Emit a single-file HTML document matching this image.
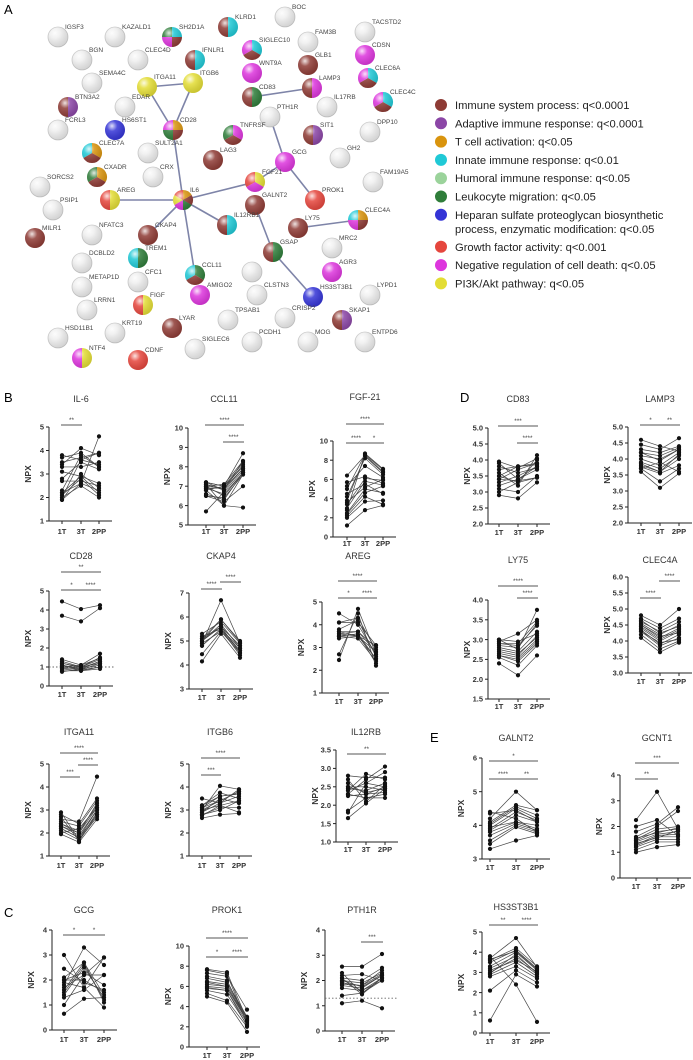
<!DOCTYPE html>
<html><head><meta charset="utf-8">
<style>
html,body{margin:0;padding:0;background:#fff;}
svg{display:block;font-family:"Liberation Sans",sans-serif;}
</style></head>
<body>
<svg id="fig" width="693" height="1060" viewBox="0 0 693 1060" xmlns="http://www.w3.org/2000/svg">
<defs>
<radialGradient id="shine" cx="0.35" cy="0.3" r="0.75">
<stop offset="0" stop-color="#fff" stop-opacity="0.85"/>
<stop offset="0.35" stop-color="#fff" stop-opacity="0.15"/>
<stop offset="1" stop-color="#000" stop-opacity="0.12"/>
</radialGradient>
</defs>
<g id="network"></g>
<g id="legend"></g>
<g id="panels"></g>
<text x="4" y="14" font-size="13">A</text>
<text x="4" y="402" font-size="13">B</text>
<text x="4" y="917" font-size="13">C</text>
<text x="460" y="402" font-size="13">D</text>
<text x="430" y="742" font-size="13">E</text>
</svg>
<script>
// ---------- Network data: [name, x, y, colours] ----------
const nodes = [
["IGSF3",58,37,""],["KAZALD1",115,37,""],["SH2D1A",172,37,"teal,brown,magenta,green"],["KLRD1",228,27,"teal,brown"],
["BOC",285,17,""],["FAM3B",308,42,""],["TACSTD2",365,32,""],["BGN",82,60,""],["CLEC4D",138,60,""],
["IFNLR1",195,60,"teal,brown"],["SIGLEC10",252,50,"teal,brown,magenta"],["GLB1",308,65,"brown"],["CDSN",365,55,"magenta"],
["SEMA4C",92,83,""],["ITGA11",147,87,"yellow"],["ITGB6",193,83,"yellow"],["WNT9A",252,73,"magenta"],
["LAMP3",312,88,"magenta,brown"],["CLEC6A",368,78,"teal,brown,magenta"],["BTN3A2",68,107,"purple,brown"],["EDAR",125,107,""],
["CD83",252,97,"green,brown"],["IL17RB",327,107,""],["CLEC4C",383,102,"teal,brown,magenta"],["FCRL3",58,130,""],
["HS6ST1",115,130,"blue"],["CD28",173,130,"orange,brown,green,magenta"],["PTH1R",270,117,""],["TNFRSF",233,135,"magenta,brown,green"],
["SIT1",313,135,"purple,brown"],["DPP10",370,132,""],["CLEC7A",92,153,"orange,brown,teal"],["SULT2A1",148,153,""],
["LAG3",213,160,"brown"],["GCG",285,162,"magenta"],["GH2",340,158,""],["CXADR",97,177,"orange,brown,green"],["CRX",153,177,""],
["FGF21",255,182,"yellow,magenta,red"],["FAM19A5",373,182,""],["SORCS2",40,187,""],["AREG",110,200,"yellow,red"],
["IL6",183,200,"orange,brown,green,magenta,yellow,red"],["PROK1",315,200,"red"],["PSIP1",53,210,""],["GALNT2",255,205,"brown"],
["IL12RB1",227,225,"teal,brown"],["LY75",298,228,"brown"],["CLEC4A",358,220,"orange,brown,magenta,teal"],["MILR1",35,238,"brown"],
["NFATC3",92,235,""],["CKAP4",148,235,"brown"],["TREM1",138,258,"green,teal"],["GSAP",273,252,"green,brown"],["MRC2",332,248,""],
["DCBLD2",82,263,""],["CFC1",138,282,""],["CCL11",195,275,"green,brown,teal"],["AGR3",332,272,"magenta"],["",252,272,""],
["METAP1D",82,287,""],["FIGF",143,305,"yellow,red"],["AMIGO2",200,295,"magenta"],["CLSTN3",257,295,""],["HS3ST3B1",313,297,"blue"],
["LYPD1",370,295,""],["LRRN1",87,310,""],["TPSAB1",228,320,""],["CRISP2",285,318,""],["SKAP1",342,320,"purple,brown"],
["LYAR",172,328,"brown"],["HSD11B1",58,338,""],["KRT19",115,333,""],["PCDH1",252,342,""],["MOG",308,342,""],["ENTPD6",365,342,""],
["NTF4",82,358,"yellow,magenta"],["CDNF",138,360,"red"],["SIGLEC6",195,349,""]
];
const edges = [["ITGA11","ITGB6"],["ITGA11","CD28"],["ITGB6","CD28"],["CD28","IL6"],["IL6","AREG"],["IL6","FGF21"],["IL6","IL12RB1"],["IL6","CKAP4"],["IL6","CCL11"],["CD83","LAMP3"],["PTH1R","GCG"],["GCG","FGF21"],["GCG","PROK1"],["GALNT2","GSAP"],["GSAP","HS3ST3B1"],["LY75","CLEC4A"]];
const palette = {brown:"#8e3b35",purple:"#8b46a6",orange:"#d9940e",teal:"#20c9d6",lgreen:"#9bd39b",green:"#2f7d3a",blue:"#3434d6",red:"#e5463d",magenta:"#dd36dd",yellow:"#e3dd35"};

// ---------- Legend ----------
const legendLabels = ["Immune system process: q<0.0001","Adaptive immune response: q<0.0001","T cell activation: q<0.05","Innate immune response: q<0.01","Humoral immune response: q<0.05","Leukocyte migration: q<0.05","Heparan sulfate proteoglycan biosynthetic|process, enzymatic modification: q<0.05","Growth factor activity: q<0.001","Negative regulation of cell death: q<0.05","PI3K/Akt pathway: q<0.05"];
const legendKeys = ["brown","purple","orange","teal","lgreen","green","blue","red","magenta","yellow"];

// ---------- Panel data (NPX values per subject) ----------
const IL6_1T=[1.9,2.0,2.1,2.2,2.3,2.7,2.8,3.1,3.3,3.4,3.5,3.7,2.0,2.2,1.9,3.8];
const IL6_3T=[2.6,3.6,2.8,2.6,3.8,2.7,3.5,2.9,3.3,4.1,3.7,3.9,2.5,2.9,3.0,3.6];
const IL6_2PP=[2.3,3.9,2.1,4.6,3.3,2.5,3.2,2.2,3.5,3.8,3.9,3.3,2.0,2.6,2.4,3.4];
const CCL11_1T=[7.2,7.1,7.0,6.9,6.8,7.2,6.5,6.5,5.7,7.0,6.9,7.1,6.8,7.2,7.0,6.6];
const CCL11_3T=[7.0,6.8,6.5,6.9,6.0,7.0,6.2,6.4,6.7,6.9,6.6,6.0,7.0,6.8,7.1,6.3];
const CCL11_2PP=[8.7,8.3,7.7,7.9,5.9,8.0,7.0,7.6,7.8,8.1,7.7,7.6,8.2,7.9,8.3,7.7];
const FGF21_1T=[1.2,2.0,2.2,2.5,2.8,3.0,3.4,3.8,4.2,4.5,5.0,5.3,5.7,6.4,2.4,3.6];
const FGF21_3T=[2.8,3.7,4.2,5.0,8.7,5.8,6.1,8.4,8.2,5.5,8.6,7.4,6.3,8.5,4.6,5.2];
const FGF21_2PP=[3.3,3.8,3.4,4.6,7.1,5.4,5.9,6.7,6.5,4.5,7.0,6.2,5.6,6.8,5.3,6.0];
const CD28_1T=[4.45,3.7,1.4,1.3,1.2,1.1,1.0,0.9,0.8,0.75,1.0,1.2,0.9,1.1];
const CD28_3T=[4.05,3.4,1.1,1.0,1.0,0.9,0.85,0.8,0.8,0.9,1.1,0.95,1.0,0.85];
const CD28_2PP=[4.25,4.1,1.7,1.5,1.4,1.3,1.2,1.0,0.9,1.1,1.45,1.3,1.2,1.0];
const CKAP4_1T=[4.15,4.45,4.8,4.9,5.0,5.0,5.1,5.2,5.3,4.9,5.0,4.8,5.1,5.0];
const CKAP4_3T=[5.3,5.4,5.5,6.7,5.6,5.7,5.9,5.5,5.8,5.4,5.6,5.5,5.6,5.9];
const CKAP4_2PP=[4.3,4.5,4.6,4.9,4.8,4.7,5.0,4.4,4.9,4.6,4.8,4.7,4.5,4.95];
const AREG_1T=[2.45,2.7,3.4,3.5,3.5,3.6,3.7,3.8,4.1,4.1,4.5,3.5,3.6,3.7];
const AREG_3T=[4.7,4.5,3.5,3.6,3.4,3.7,3.5,4.2,4.3,4.1,4.0,3.6,3.5,3.7];
const AREG_2PP=[2.7,2.2,2.8,2.5,2.4,3.0,3.1,2.6,2.9,3.1,2.7,2.3,2.5,2.8];
const ITGA11_1T=[1.95,2.1,2.2,2.3,2.3,2.4,2.5,2.6,2.8,2.9,2.2,2.4,2.7,2.0];
const ITGA11_3T=[1.6,1.7,1.8,1.9,2.0,2.1,2.3,2.5,2.4,1.7,1.8,2.0,1.65,2.2];
const ITGA11_2PP=[2.6,2.7,2.8,3.0,3.1,3.2,3.4,4.45,3.5,2.9,3.0,3.3,2.8,3.1];
const ITGB6_1T=[2.65,2.75,2.8,2.9,3.0,3.0,3.1,3.2,3.5,2.9,3.0,3.1,2.8,3.2];
const ITGB6_3T=[2.8,3.2,3.1,3.3,3.4,4.05,3.6,3.75,3.3,3.5,3.2,3.4,3.0,3.6];
const ITGB6_2PP=[2.85,3.4,3.1,3.6,3.8,3.9,3.7,3.5,3.9,3.3,2.9,3.8,3.4,3.7];
const IL12RB_1T=[1.65,1.8,1.85,2.25,2.3,2.4,2.45,2.5,2.6,2.7,2.8,2.4,2.5,2.3];
const IL12RB_3T=[2.05,2.6,2.2,2.3,2.7,2.85,2.4,2.5,2.3,2.1,2.75,2.6,2.35,2.2];
const IL12RB_2PP=[2.45,2.9,2.2,2.5,3.05,2.7,2.6,2.4,2.35,2.55,2.75,2.5,2.45,2.3];
const GCG_1T=[0.65,1.0,1.3,1.5,1.6,1.8,1.9,2.0,2.1,2.45,3.0,1.4,1.7,2.0];
const GCG_3T=[1.25,2.2,1.6,2.6,2.7,3.3,1.7,2.3,2.7,1.9,1.7,2.5,2.2,2.0];
const GCG_2PP=[1.3,2.9,2.2,1.2,1.4,2.6,0.9,1.8,1.1,1.6,2.9,1.3,2.2,1.5];
const PROK1_1T=[5.0,5.3,5.6,5.8,6.0,6.2,6.5,6.8,7.0,7.3,7.6,7.7,5.9,6.4];
const PROK1_3T=[4.4,4.6,5.2,5.6,5.8,6.0,6.2,6.4,6.6,7.0,7.2,7.4,5.6,6.0];
const PROK1_2PP=[1.5,2.0,2.2,2.4,2.6,2.8,2.9,3.0,2.5,3.7,2.3,2.7,2.1,2.6];
const PTH1R_1T=[1.1,1.4,1.7,1.8,1.9,2.0,2.1,2.2,2.3,2.55,1.95,2.0,1.85,2.1];
const PTH1R_3T=[1.2,1.5,1.6,1.7,1.8,1.9,2.0,2.25,1.5,2.55,1.6,1.75,1.8,1.45];
const PTH1R_2PP=[0.9,2.0,2.1,2.2,2.25,2.3,2.5,2.0,2.1,3.05,2.0,2.2,2.4,2.1];
const CD83_1T=[2.9,3.0,3.1,3.2,3.3,3.4,3.5,3.6,3.7,3.8,3.9,3.95,3.4,3.5];
const CD83_3T=[2.8,3.3,3.0,3.4,3.5,3.7,3.3,3.2,3.8,3.6,3.4,3.75,3.35,3.8];
const CD83_2PP=[3.3,3.45,3.5,3.7,3.8,3.9,4.0,4.15,3.9,3.75,3.8,4.05,3.45,3.85];
const LAMP3_1T=[3.6,3.7,3.75,3.8,3.9,4.0,4.1,4.2,4.3,4.45,4.6,3.7,3.85,4.2];
const LAMP3_3T=[3.1,3.3,3.55,3.6,3.7,3.8,4.0,4.1,4.2,4.3,4.4,3.9,3.6,3.95];
const LAMP3_2PP=[3.55,3.7,3.8,4.0,4.1,4.2,4.3,4.35,4.4,4.65,4.25,3.6,4.15,4.3];
const LY75_1T=[2.4,2.55,2.6,2.65,2.7,2.8,2.85,2.9,2.95,3.0,2.6,2.75,2.9,3.0];
const LY75_3T=[2.1,2.35,2.45,2.55,2.6,2.7,2.8,2.9,3.15,2.75,2.5,2.65,2.85,2.95];
const LY75_2PP=[2.6,2.85,2.9,3.0,3.1,3.2,3.4,3.45,3.5,3.75,2.95,3.05,3.35,3.15];
const CLEC4A_1T=[4.1,4.2,4.3,4.35,4.4,4.45,4.5,4.55,4.6,4.7,4.8,4.3,4.5,4.65];
const CLEC4A_3T=[3.65,3.75,3.85,3.9,4.0,4.05,4.1,4.2,4.3,4.4,4.5,3.95,4.15,4.25];
const CLEC4A_2PP=[3.95,4.0,4.1,4.2,4.3,4.35,4.4,4.5,4.6,4.7,5.0,4.05,4.25,4.45];
const GALNT2_1T=[3.3,3.45,3.55,3.7,3.8,3.85,3.9,4.0,4.05,4.1,4.2,4.4,4.35,3.95];
const GALNT2_3T=[3.55,3.95,4.0,4.05,4.1,4.3,4.4,4.5,4.55,4.6,5.0,4.2,4.45,4.1];
const GALNT2_2PP=[3.7,3.75,3.8,3.85,4.0,4.1,4.15,4.2,4.3,4.45,4.45,3.8,4.1,3.9];
const GCNT1_1T=[1.0,1.1,1.2,1.25,1.3,1.4,1.45,1.5,1.6,1.8,2.0,2.25,1.35,1.55];
const GCNT1_3T=[1.2,1.4,1.5,1.6,1.65,1.7,1.8,1.9,2.0,2.1,2.25,3.35,1.55,1.75];
const GCNT1_2PP=[1.3,1.4,1.5,1.6,1.7,1.8,1.9,2.0,2.6,2.75,1.65,1.9,1.85,1.95];
const HS3_1T=[0.62,2.1,2.8,2.9,3.0,3.2,3.3,3.5,3.6,3.7,3.8,2.95,3.1,3.65];
const HS3_3T=[2.9,3.1,3.3,3.5,3.7,3.8,4.0,4.1,4.2,4.7,2.4,3.9,3.6,4.05];
const HS3_2PP=[2.3,2.5,2.7,2.8,2.9,3.0,3.1,3.2,3.3,3.25,0.55,2.95,3.05,3.15];
const categories=["1T","3T","2PP"];

const NS="http://www.w3.org/2000/svg";
function mk(tag,attrs,parent){const e=document.createElementNS(NS,tag);for(const k in attrs)e.setAttribute(k,attrs[k]);if(parent)parent.appendChild(e);return e;}

// ----- draw network -----
const net=document.getElementById('network');
const find=n=>nodes.find(d=>d[0]===n);
edges.forEach(([a,b])=>{
  const A=find(a),B=find(b);
  const l=mk('line',{x1:A[1],y1:A[2],x2:B[1],y2:B[2],stroke:'#7e84a8','stroke-width':1.6},net);
  
  
});
const R=10;
nodes.forEach((d,i)=>{
  const [n,cx,cy,cs]=d;
  const g=mk('g',{},net);
  
  
  const cols=cs?cs.split(','):[];
  if(cols.length===0){mk('circle',{cx,cy,r:R,fill:'#eeeeee',stroke:'#c8c8c8','stroke-width':0.8},g);}
  else if(cols.length===1){mk('circle',{cx,cy,r:R,fill:palette[cols[0]]},g);}
  else{
    const k=cols.length;
    cols.forEach((c,s)=>{
      const a0=-Math.PI/2+2*Math.PI*s/k,a1=-Math.PI/2+2*Math.PI*(s+1)/k;
      const p=`M${cx},${cy} L${cx+R*Math.cos(a0)},${cy+R*Math.sin(a0)} A${R},${R} 0 0 1 ${cx+R*Math.cos(a1)},${cy+R*Math.sin(a1)} Z`;
      mk('path',{d:p,fill:palette[c]},g);
    });
  }
  mk('circle',{cx,cy,r:R,fill:'url(#shine)'},g);
  if(n){const t=mk('text',{x:cx+7,y:cy-8,'font-size':6.5,fill:'#444'},g);t.textContent=n;}
});

// ----- legend -----
const leg=document.getElementById('legend');
let ly=105;
legendLabels.forEach((lab,i)=>{
  const g=mk('g',{},leg);
  
  
  mk('circle',{cx:441,cy:ly,r:6,fill:palette[legendKeys[i]]},g);
  lab.split('|').forEach((part,p)=>{const t=mk('text',{x:455,y:ly+4+p*14,'font-size':11.2,fill:'#222'},g);t.textContent=part;});
  ly+=lab.includes('|')?32:18.3;
});

// ----- panels -----
const panels=[
 {id:'il6',title:'IL-6',a:IL6_1T,b:IL6_3T,c:IL6_2PP,ax:49,cx:[62,81,99],yt:427,yb:521,vmin:1,vmax:5,step:1,dec:0,ty:402,lab:534,sig:[[0,1,425,'**']]},
 {id:'ccl11',title:'CCL11',a:CCL11_1T,b:CCL11_3T,c:CCL11_2PP,ax:188,cx:[206,224,243],yt:428,yb:525,vmin:5,vmax:10,step:1,dec:0,ty:402,lab:534,sig:[[0,2,425,'****'],[1,2,442,'****']]},
 {id:'fgf21',title:'FGF-21',a:FGF21_1T,b:FGF21_3T,c:FGF21_2PP,ax:333,cx:[347,365,383],yt:441,yb:537,vmin:0,vmax:10,step:2,dec:0,ty:400,lab:546,sig:[[0,2,424,'****'],[0,1,443,'****'],[1,2,443,'*']]},
 {id:'cd28',title:'CD28',a:CD28_1T,b:CD28_3T,c:CD28_2PP,ax:49,cx:[62,81,100],yt:591,yb:686,vmin:0,vmax:5,step:1,dec:0,ty:559,lab:697,sig:[[0,2,572,'**'],[0,1,590,'*'],[1,2,590,'****']],dot:1},
 {id:'ckap4',title:'CKAP4',a:CKAP4_1T,b:CKAP4_3T,c:CKAP4_2PP,ax:189,cx:[202,221,240],yt:593,yb:689,vmin:3,vmax:7,step:1,dec:0,ty:559,lab:700,sig:[[0,1,589,'****'],[1,2,582,'****']]},
 {id:'areg',title:'AREG',a:AREG_1T,b:AREG_3T,c:AREG_2PP,ax:322,cx:[339,358,376],yt:602,yb:693,vmin:1,vmax:5,step:1,dec:0,ty:559,lab:704,sig:[[0,2,581,'****'],[0,1,598,'*'],[1,2,598,'****']]},
 {id:'itga11',title:'ITGA11',a:ITGA11_1T,b:ITGA11_3T,c:ITGA11_2PP,ax:49,cx:[61,79,97],yt:764,yb:856,vmin:1,vmax:5,step:1,dec:0,ty:735,lab:868,sig:[[0,2,753,'****'],[0,1,777,'***'],[1,2,765,'****']]},
 {id:'itgb6',title:'ITGB6',a:ITGB6_1T,b:ITGB6_3T,c:ITGB6_2PP,ax:189,cx:[202,220,239],yt:764,yb:856,vmin:1,vmax:5,step:1,dec:0,ty:735,lab:868,sig:[[0,2,758,'****'],[0,1,775,'***']]},
 {id:'il12rb',title:'IL12RB',a:IL12RB_1T,b:IL12RB_3T,c:IL12RB_2PP,ax:336,cx:[348,366,385],yt:750,yb:842,vmin:1,vmax:3.5,step:0.5,dec:1,ty:735,lab:852,sig:[[0,2,754,'**']]},
 {id:'gcg',title:'GCG',a:GCG_1T,b:GCG_3T,c:GCG_2PP,ax:52,cx:[64,84,104],yt:930,yb:1030,vmin:0,vmax:4,step:1,dec:0,ty:913,lab:1042,sig:[[0,1,935,'*'],[1,2,935,'*']]},
 {id:'prok1',title:'PROK1',a:PROK1_1T,b:PROK1_3T,c:PROK1_2PP,ax:189,cx:[207,227,247],yt:946,yb:1047,vmin:0,vmax:10,step:2,dec:0,ty:913,lab:1058,sig:[[0,2,938,'****'],[0,1,957,'*'],[1,2,957,'****']]},
 {id:'pth1r',title:'PTH1R',a:PTH1R_1T,b:PTH1R_3T,c:PTH1R_2PP,ax:325,cx:[342,362,382],yt:930,yb:1031,vmin:0,vmax:4,step:1,dec:0,ty:913,lab:1042,sig:[[1,2,942,'***']],dot:1.3},
 {id:'cd83',title:'CD83',a:CD83_1T,b:CD83_3T,c:CD83_2PP,ax:488,cx:[499,518,537],yt:428,yb:524,vmin:2,vmax:5,step:0.5,dec:1,ty:402,lab:535,sig:[[0,2,426,'***'],[1,2,443,'****']]},
 {id:'lamp3',title:'LAMP3',a:LAMP3_1T,b:LAMP3_3T,c:LAMP3_2PP,ax:628,cx:[641,660,679],yt:427,yb:523,vmin:2,vmax:5,step:0.5,dec:1,ty:402,lab:534,sig:[[0,1,425,'*'],[1,2,425,'**']]},
 {id:'ly75',title:'LY75',a:LY75_1T,b:LY75_3T,c:LY75_2PP,ax:488,cx:[499,518,537],yt:600,yb:699,vmin:1.5,vmax:4,step:0.5,dec:1,ty:563,lab:709,sig:[[0,2,586,'****'],[1,2,598,'****']]},
 {id:'clec4a',title:'CLEC4A',a:CLEC4A_1T,b:CLEC4A_3T,c:CLEC4A_2PP,ax:628,cx:[641,660,679],yt:577,yb:673,vmin:3,vmax:6,step:0.5,dec:1,ty:563,lab:684,sig:[[0,1,598,'****'],[1,2,581,'****']]},
 {id:'galnt2',title:'GALNT2',a:GALNT2_1T,b:GALNT2_3T,c:GALNT2_2PP,ax:482,cx:[490,516,537],yt:758,yb:859,vmin:3,vmax:6,step:1,dec:0,ty:741,lab:870,sig:[[0,2,761,'*'],[0,1,779,'****'],[1,2,779,'**']]},
 {id:'gcnt1',title:'GCNT1',a:GCNT1_1T,b:GCNT1_3T,c:GCNT1_2PP,ax:620,cx:[636,657,678],yt:775,yb:878,vmin:0,vmax:4,step:1,dec:0,ty:741,lab:889,sig:[[0,2,763,'***'],[0,1,779,'**']]},
 {id:'hs3st3b1',title:'HS3ST3B1',a:HS3_1T,b:HS3_3T,c:HS3_2PP,ax:482,cx:[490,516,537],yt:932,yb:1033,vmin:0,vmax:5,step:1,dec:0,ty:910,lab:1044,sig:[[0,1,925,'**'],[1,2,925,'****']]}
];
const pg=document.getElementById('panels');
panels.forEach(p=>{
  const g=mk('g',{},pg);
  
  
  const y=v=>p.yb-(v-p.vmin)/(p.vmax-p.vmin)*(p.yb-p.yt);
  const xr=p.cx[2]+13;
  const t=mk('text',{x:p.cx[1],y:p.ty,'font-size':9,'text-anchor':'middle',fill:'#333'},g);t.textContent=p.title;
  
  mk('line',{x1:p.ax,y1:p.yt,x2:p.ax,y2:p.yb,stroke:'#222','stroke-width':1},g);
  mk('line',{x1:p.ax,y1:p.yb,x2:xr,y2:p.yb,stroke:'#222','stroke-width':1},g);
  for(let v=p.vmin;v<=p.vmax+1e-9;v+=p.step){
    const yy=y(v);
    mk('line',{x1:p.ax-3,y1:yy,x2:p.ax,y2:yy,stroke:'#222','stroke-width':1},g);
    const tl=mk('text',{x:p.ax-5,y:yy+2.7,'font-size':7.5,'font-weight':'bold','text-anchor':'end',fill:'#333'},g);
    tl.textContent=v.toFixed(p.dec);
  }
  p.cx.forEach((cx,i)=>{
    mk('line',{x1:cx,y1:p.yb,x2:cx,y2:p.yb+3,stroke:'#222','stroke-width':1},g);
    const cl=mk('text',{x:cx,y:p.lab,'font-size':7.5,'font-weight':'bold','text-anchor':'middle',fill:'#333'},g);
    cl.textContent=categories[i];
  });
  const nl=mk('text',{x:0,y:0,'font-size':8.5,'font-weight':'bold','text-anchor':'middle',fill:'#333',transform:`translate(${p.ax-18},${(p.yt+p.yb)/2}) rotate(-90)`},g);
  nl.textContent='NPX';
  
  if(p.dot!==undefined){mk('line',{x1:p.ax,y1:y(p.dot),x2:xr+2,y2:y(p.dot),stroke:'#666','stroke-width':0.9,'stroke-dasharray':'1.5,2'},g);}
  for(let k=0;k<p.a.length;k++){
    const vals=[p.a[k],p.b[k],p.c[k]];
    const pts=vals.map((v,i)=>`${p.cx[i]},${y(v)}`).join(' ');
    const pl=mk('polyline',{points:pts,fill:'none',stroke:'#444','stroke-width':0.7},g);
    
    vals.forEach((v,i)=>{mk('circle',{cx:p.cx[i],cy:y(v),r:2.1,fill:'#111'},g);});
  }
  p.sig.forEach(s=>{
    mk('line',{x1:p.cx[s[0]]-1,y1:s[2],x2:p.cx[s[1]]+1,y2:s[2],stroke:'#555','stroke-width':1},g);
    const st=mk('text',{x:(p.cx[s[0]]+p.cx[s[1]])/2,y:s[2]-3,'font-size':6.5,'text-anchor':'middle',fill:'#444'},g);
    st.textContent=s[3];
  });
});
</script>
</body></html>
